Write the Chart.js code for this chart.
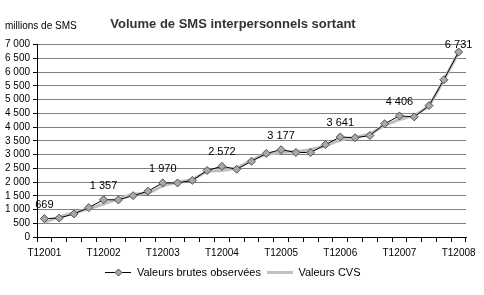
<!DOCTYPE html>
<html>
<head>
<meta charset="utf-8">
<script src="https://cdn.jsdelivr.net/npm/chart.js@4/dist/chart.umd.min.js"></script>
<style>
  html, body { margin: 0; padding: 0; background: #fff; }
  #wrap { width: 484px; height: 295px; position: relative; }
</style>
</head>
<body>
<div id="wrap"><canvas id="chartSMS"></canvas></div>
<script>
const quarters = [
  'T12001', 'T22001', 'T32001', 'T42001',
  'T12002', 'T22002', 'T32002', 'T42002',
  'T12003', 'T22003', 'T32003', 'T42003',
  'T12004', 'T22004', 'T32004', 'T42004',
  'T12005', 'T22005', 'T32005', 'T42005',
  'T12006', 'T22006', 'T32006', 'T42006',
  'T12007', 'T22007', 'T32007', 'T42007',
  'T12008'
];

// millions de SMS
const brutes = [
  669, 690, 840, 1070,
  1357, 1350, 1505, 1665,
  1970, 1965, 2060, 2420,
  2572, 2465, 2755, 3040,
  3177, 3075, 3075, 3360,
  3641, 3610, 3690, 4120,
  4406, 4370, 4780, 5720,
  6731
];

const cvs = [
  540, 720, 880, 1030,
  1200, 1390, 1560, 1600,
  1850, 1990, 2100, 2380,
  2420, 2520, 2800, 3000,
  3070, 3110, 3180, 3320,
  3520, 3630, 3760, 4050,
  4270, 4430, 4800, 5720,
  6700
];

const yTicks = [0, 500, 1000, 1500, 2000, 2500, 3000, 3500, 4000, 4500, 5000, 5500, 6000, 6500, 7000];

const FONT = "'Liberation Sans', Arial, sans-serif";

function fmt(n) {
  return String(n).replace(/\B(?=(\d{3})+(?!\d))/g, ' ');
}

// petites icônes de légende (trait + losange / trait gris)
function legendIcon(kind) {
  const c = document.createElement('canvas');
  c.width = 26; c.height = 9;
  const g = c.getContext('2d');
  if (kind === 'brutes') {
    g.strokeStyle = '#000'; g.lineWidth = 1;
    g.beginPath(); g.moveTo(0, 4.5); g.lineTo(26, 4.5); g.stroke();
    g.fillStyle = '#a8a8a8'; g.strokeStyle = '#505050';
    g.beginPath();
    g.moveTo(13, 1); g.lineTo(16.5, 4.5); g.lineTo(13, 8); g.lineTo(9.5, 4.5);
    g.closePath(); g.fill(); g.stroke();
  } else {
    g.strokeStyle = '#c0c0c0'; g.lineWidth = 3;
    g.beginPath(); g.moveTo(0, 4.5); g.lineTo(26, 4.5); g.stroke();
  }
  return c;
}

const extraText = {
  id: 'extraText',
  afterDraw(chart) {
    const ctx = chart.ctx;
    ctx.save();
    ctx.fillStyle = '#000';
    ctx.font = `10px ${FONT}`;
    ctx.textAlign = 'left';
    ctx.textBaseline = 'middle';
    ctx.fillText('millions de SMS', 5, 26);

    // étiquettes des T1
    const meta = chart.getDatasetMeta(0);
    ctx.font = `11px ${FONT}`;
    ctx.textAlign = 'center';
    meta.data.forEach((pt, i) => {
      if (i % 4 !== 0) return;
      const y = Math.max(pt.y - 14, chart.chartArea.top);
      ctx.fillText(fmt(brutes[i]), pt.x, y);
    });
    ctx.restore();
  }
};

new Chart(document.getElementById('chartSMS'), {
  type: 'line',
  data: {
    labels: quarters,
    datasets: [
      {
        label: 'Valeurs brutes observées',
        data: brutes,
        borderColor: '#000',
        borderWidth: 1,
        tension: 0,
        pointStyle: 'rectRot',
        pointRadius: 4,
        pointBackgroundColor: '#a8a8a8',
        pointBorderColor: '#505050',
        pointBorderWidth: 1,
        fill: false,
      },
      {
        label: 'Valeurs CVS',
        data: cvs,
        borderColor: '#c0c0c0',
        borderWidth: 3,
        tension: 0.3,
        pointRadius: 0,
        fill: false,
      }
    ]
  },
  options: {
    responsive: true,
    maintainAspectRatio: false,
    animation: false,
    layout: { padding: { left: 0, right: 18, top: 0, bottom: 7 } },
    plugins: {
      title: {
        display: true,
        text: 'Volume de SMS interpersonnels sortant',
        color: '#333',
        font: { family: FONT, size: 13, weight: 'bold' },
        padding: { top: 17, bottom: 12 }
      },
      legend: {
        position: 'bottom',
        labels: {
          usePointStyle: true,
          pointStyleWidth: 26,
          padding: 6,
          color: '#000',
          font: { family: FONT, size: 11 },
          generateLabels(chart) {
            const items = Chart.defaults.plugins.legend.labels.generateLabels(chart);
            items.forEach(it => {
              it.pointStyle = legendIcon(it.datasetIndex === 0 ? 'brutes' : 'cvs');
            });
            return items;
          }
        }
      },
      tooltip: { enabled: false }
    },
    scales: {
      x: {
        offset: true,
        border: { color: '#000', width: 1 },
        grid: { offset: true, drawOnChartArea: false, tickLength: 5, tickColor: '#000' },
        ticks: {
          autoSkip: false,
          maxRotation: 0,
          padding: 5,
          color: '#000',
          font: { family: FONT, size: 10 },
          callback(v, i) { return i % 4 === 0 ? quarters[i] : ''; }
        },
        afterFit(s) { s.height = 24; }
      },
      y: {
        min: 0,
        max: 7000,
        border: { color: '#000', width: 1 },
        grid: { color: '#808080', tickLength: 4, tickColor: '#000' },
        afterBuildTicks(s) { s.ticks = yTicks.map(v => ({ value: v })); },
        ticks: {
          autoSkip: false,
          padding: 3,
          color: '#000',
          font: { family: FONT, size: 10 },
          callback(v) { return fmt(v); }
        },
        afterFit(s) { s.width = 37; }
      }
    }
  },
  plugins: [extraText]
});
</script>
</body>
</html>
